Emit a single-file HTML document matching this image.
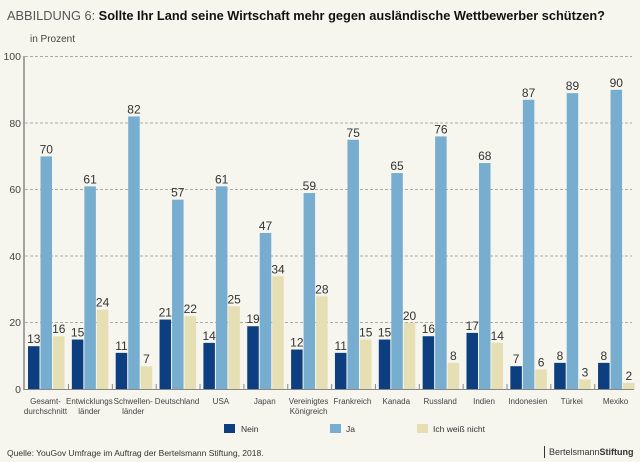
<!DOCTYPE html>
<html><head><meta charset="utf-8"><style>
html,body{margin:0;padding:0;background:#f6f5ee;}
svg{display:block;font-family:"Liberation Sans",sans-serif;}
</style></head><body>
<svg width="640" height="462" viewBox="0 0 640 462" xmlns="http://www.w3.org/2000/svg">
<rect width="640" height="462" fill="#f6f5ee"/>
<text x="7" y="20" font-size="13" fill="#333" textLength="598" lengthAdjust="spacingAndGlyphs"><tspan font-weight="300" fill="#555">ABBILDUNG 6: </tspan><tspan font-weight="bold" fill="#111">Sollte Ihr Land seine Wirtschaft mehr gegen ausländische Wettbewerber schützen?</tspan></text>
<text x="30" y="42" font-size="10" fill="#444">in Prozent</text>
<g stroke="#aaa" stroke-width="1" stroke-dasharray="3,2">
<line x1="25" y1="56.5" x2="632" y2="56.5"/>
<line x1="25" y1="123" x2="632" y2="123"/>
<line x1="25" y1="189.5" x2="632" y2="189.5"/>
<line x1="25" y1="256" x2="632" y2="256"/>
<line x1="25" y1="322.5" x2="632" y2="322.5"/>
</g>
<g font-size="10.5" fill="#444" text-anchor="end">
<text x="21" y="60">100</text><text x="21" y="127">80</text><text x="21" y="193">60</text><text x="21" y="260">40</text><text x="21" y="326">20</text><text x="21" y="393">0</text>
</g>
<g id="bars"></g>
<line x1="24" y1="56" x2="24" y2="390" stroke="#888" stroke-width="1.5"/>
<line x1="24" y1="389.5" x2="634" y2="389.5" stroke="#888" stroke-width="1"/>
<g id="ticks" stroke="#888"></g>
<g id="labels" font-size="8" fill="#444" text-anchor="middle"></g>
<rect x="224" y="424" width="11" height="9" fill="#0d3f80"/><text x="241" y="432" font-size="8.5" fill="#333">Nein</text>
<rect x="330" y="424" width="11" height="9" fill="#77aed0"/><text x="346" y="432" font-size="8.5" fill="#333">Ja</text>
<rect x="417" y="424" width="11" height="9" fill="#e6dfb4"/><text x="433" y="432" font-size="8.5" fill="#333">Ich weiß nicht</text>
<text x="7" y="456" font-size="8.5" fill="#333">Quelle: YouGov Umfrage im Auftrag der Bertelsmann Stiftung, 2018.</text>
<line x1="544.5" y1="446" x2="544.5" y2="458" stroke="#333"/>
<text x="549" y="455" font-size="9" fill="#333">Bertelsmann<tspan font-weight="bold">Stiftung</tspan></text>
</svg>
<script>
var d=[[13,70,16,"Gesamt-","durchschnitt"],[15,61,24,"Entwicklungs","länder"],[11,82,7,"Schwellen-","länder"],[21,57,22,"Deutschland",""],[14,61,25,"USA",""],[19,47,34,"Japan",""],[12,59,28,"Vereinigtes","Königreich"],[11,75,15,"Frankreich",""],[15,65,20,"Kanada",""],[16,76,8,"Russland",""],[17,68,14,"Indien",""],[7,87,6,"Indonesien",""],[8,89,3,"Türkei",""],[8,90,2,"Mexiko",""]];
var cols=["#0d3f80","#77aed0","#e6dfb4"],ns="http://www.w3.org/2000/svg";
var B=document.getElementById("bars"),T=document.getElementById("ticks"),L=document.getElementById("labels");
function el(p,t,a,txt){var e=document.createElementNS(ns,t);for(var k in a)e.setAttribute(k,a[k]);if(txt!=null)e.textContent=txt;p.appendChild(e);return e;}
d.forEach(function(g,i){var x0=28+i*43.85;
for(var j=0;j<3;j++){var v=g[j],h=v*3.33,x=x0+j*12.5;
el(B,"rect",{x:x,y:389.5-h,width:11.5,height:h,fill:cols[j]});
el(B,"text",{x:x+5.75,y:389.5-h-3,"font-size":12,fill:"#333","text-anchor":"middle"},v);}
if(i<13)el(T,"line",{x1:x0+40.5,y1:384,x2:x0+40.5,y2:390});
var cx=x0+17.5;
if(g[4]){el(L,"text",{x:cx,y:404},g[3]);el(L,"text",{x:cx,y:414},g[4]);}else el(L,"text",{x:cx,y:404},g[3]);
});
</script>
</body></html>
